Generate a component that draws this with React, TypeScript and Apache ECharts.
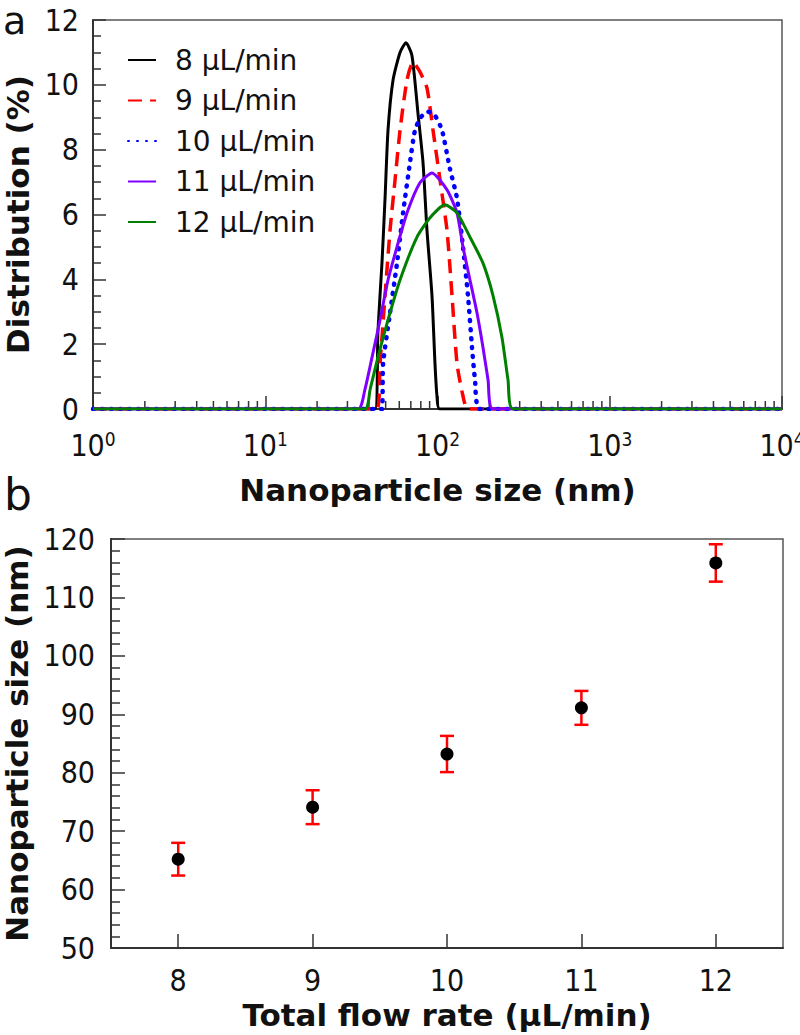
import React, { useEffect, useRef } from "react";
import * as echarts from "echarts";

// ---- Panel a: size distributions ----
const seriesNames = ["8 µL/min", "9 µL/min", "10 µL/min", "11 µL/min", "12 µL/min"];
const size8 = [1, 43.4, 45.1, 47.6, 49.6, 51.6, 55.2, 60.6, 65.6, 71.1, 77.1, 82.4, 86.9, 92.9, 96.7, 99.3, 103, 10000];
const dist8 = [0, 0, 2.4, 4.5, 6.5, 8.6, 10.15, 11.0, 11.3, 10.9, 9.1, 7.6, 5.5, 3.5, 1.4, 0.4, 0, 0];
const size9 = [1, 44.5, 46.4, 49.6, 53.0, 56.7, 60.6, 66.5, 72.1, 79.1, 86.9, 94.2, 103.4, 113.6, 121.4, 129.8, 140.6, 150.3, 10000];
const dist9 = [0, 0, 1.4, 3.5, 5.5, 7.07, 8.6, 10.15, 10.7, 10.4, 9.9, 8.6, 7.07, 5.5, 3.5, 1.4, 0.4, 0, 0];
const size10 = [1, 47.6, 48.3, 53.0, 58.2, 63.1, 69.2, 74.0, 80, 88.1, 96.7, 106.2, 118.2, 129.8, 140.6, 150.3, 158.6, 165.1, 176.5, 10000];
const dist10 = [0, 0, 1.4, 2.96, 4.5, 6.05, 7.6, 8.6, 9.0, 9.17, 9.05, 8.6, 7.4, 6.5, 5.0, 3.5, 1.9, 0.9, 0, 0];
const size11 = [1, 34.6, 37.9, 41.7, 46.4, 51.6, 58.2, 66.5, 79.1, 92.9, 113.6, 129.8, 140.6, 154.4, 169.6, 183.7, 196.5, 210, 10000];
const dist11 = [0, 0, 0.6, 1.6, 2.75, 3.98, 5.0, 6.05, 6.98, 7.28, 6.76, 6.05, 5.0, 3.98, 2.96, 1.9, 0.9, 0, 0];
const size12 = [1, 37.9, 40.6, 45.1, 51.6, 60.6, 76.0, 90.5, 110.5, 129.8, 154.4, 183.7, 210, 236.9, 256.6, 274.3, 10000];
const dist12 = [0, 0, 0.6, 1.6, 2.75, 3.98, 5.3, 5.9, 6.3, 6.05, 5.3, 4.5, 3.5, 2.2, 0.9, 0, 0];
const minorXTicks = [2, 3, 4, 5, 6, 7, 8, 9, 20, 30, 40, 50, 60, 70, 80, 90, 200, 300, 400, 500, 600, 700, 800, 900, 2000, 3000, 4000, 5000, 6000, 7000, 8000, 9000];

// ---- Panel b: mean size vs flow rate ----
const flowRates = ["8", "9", "10", "11", "12"];
const meanSize = [65.2, 74.1, 83.2, 91.1, 115.9];
const sizeErr = [2.8, 2.9, 3.1, 2.9, 3.2];

const TICK_FONT = "'DejaVu Sans Condensed', 'DejaVu Sans', sans-serif";
const TITLE_FONT = "'DejaVu Sans', Verdana, sans-serif";

function zip(xs: number[], ys: number[]) {
  return xs.map((x, i) => [x, ys[i]]);
}

export default function App() {
  const ref = useRef<HTMLDivElement>(null);
  useEffect(() => {
    if (!ref.current) return;
    const chart = echarts.init(ref.current, undefined, { renderer: "svg" });
    const axisLine = { show: true, lineStyle: { color: "#333", width: 2 } };
    const titleStyle = { fontFamily: TITLE_FONT, fontWeight: "bold", fontSize: 31, lineHeight: 31, color: "#111" };
    const lineDefs = [
      { x: size8, y: dist8, color: "#000000", type: "solid", width: 3 },
      { x: size9, y: dist9, color: "#ff0000", type: [14, 8], width: 3.5 },
      { x: size10, y: dist10, color: "#0000ff", type: [1, 8], width: 4.5, cap: "round" },
      { x: size11, y: dist11, color: "#8000ff", type: "solid", width: 3 },
      { x: size12, y: dist12, color: "#008000", type: "solid", width: 3 },
    ];
    const option: any = {
      animation: false,
      backgroundColor: "#ffffff",
      grid: [
        { left: 93, top: 20, width: 689, height: 389, show: true, borderColor: "#555", borderWidth: 1.5, containLabel: false, outerBoundsMode: "none" },
        { left: 111, top: 539, width: 672, height: 409, show: true, borderColor: "#555", borderWidth: 1.5, containLabel: false, outerBoundsMode: "none" },
      ],
      legend: {
        orient: "vertical",
        left: 122,
        top: 41,
        itemGap: 12.5,
        itemWidth: 28,
        itemHeight: 14,
        data: seriesNames,
        itemStyle: { opacity: 0 },
        textStyle: { fontFamily: TITLE_FONT, fontSize: 28, color: "#111", padding: [0, 0, 0, 14] },
      },
      xAxis: [
        {
          type: "log",
          gridIndex: 0,
          logBase: 10,
          min: 1,
          max: 10000,
          axisLine,
          axisTick: { show: true, inside: true, length: 13, lineStyle: { color: "#333", width: 1.5 } },
          splitLine: { show: false },
          axisLabel: {
            margin: 20,
            color: "#111",
            hideOverlap: false,
            formatter: (v: number) => `{b|10}{s|${Math.round(Math.log10(v))}}`,
            rich: {
              b: { fontFamily: TICK_FONT, fontSize: 30, color: "#111", lineHeight: 32 },
              s: { fontFamily: TICK_FONT, fontSize: 19, color: "#111", verticalAlign: "top", lineHeight: 19 },
            },
          },
          name: "Nanoparticle size (nm)",
          nameLocation: "middle",
          nameGap: 65,
          nameTextStyle: titleStyle,
        },
        {
          type: "category",
          gridIndex: 1,
          data: flowRates,
          boundaryGap: true,
          axisLine,
          axisTick: { show: true, inside: true, alignWithLabel: true, length: 14, lineStyle: { color: "#333", width: 1.5 } },
          axisLabel: { margin: 17, fontFamily: TICK_FONT, fontSize: 30, color: "#111" },
          name: "Total flow rate (µL/min)",
          nameLocation: "middle",
          nameGap: 51,
          nameTextStyle: titleStyle,
        },
      ],
      yAxis: [
        {
          type: "value",
          gridIndex: 0,
          min: 0,
          max: 12,
          interval: 2,
          axisLine,
          axisTick: { show: true, inside: true, length: 13, lineStyle: { color: "#333", width: 1.5 } },
          minorTick: { show: true, splitNumber: 4, length: 8, lineStyle: { color: "#333", width: 1.5 } },
          splitLine: { show: false },
          axisLabel: { margin: 14, fontFamily: TICK_FONT, fontSize: 30, color: "#111" },
          name: "Distribution (%)",
          nameLocation: "middle",
          nameGap: 55,
          nameTextStyle: titleStyle,
        },
        {
          type: "value",
          gridIndex: 1,
          min: 50,
          max: 120,
          interval: 10,
          axisLine,
          axisTick: { show: true, inside: true, length: 14, lineStyle: { color: "#333", width: 1.5 } },
          minorTick: { show: true, splitNumber: 5, length: 9, lineStyle: { color: "#333", width: 1.5 } },
          splitLine: { show: false },
          axisLabel: { margin: 16, fontFamily: TICK_FONT, fontSize: 30, color: "#111" },
          name: "Nanoparticle size (nm)",
          nameLocation: "middle",
          nameGap: 71,
          nameTextStyle: titleStyle,
        },
      ],
      graphic: [
        { type: "text", left: 3, top: 2, style: { text: "a", fontFamily: TITLE_FONT, fontSize: 38, fill: "#111" } },
        { type: "text", left: 4, top: 472, style: { text: "b", fontFamily: TITLE_FONT, fontSize: 44, fill: "#111" } },
      ],
      series: [
        {
          type: "custom",
          xAxisIndex: 0,
          yAxisIndex: 0,
          silent: true,
          data: minorXTicks.map((v) => [v, 0]),
          renderItem: (params: any, api: any) => {
            const p = api.coord([api.value(0), 0]);
            return {
              type: "line",
              shape: { x1: p[0], y1: p[1], x2: p[0], y2: p[1] - 8 },
              style: { stroke: "#333", lineWidth: 1.5 },
            };
          },
          z: 1,
        },
        ...lineDefs.map((d, i) => ({
          type: "line",
          name: seriesNames[i],
          xAxisIndex: 0,
          yAxisIndex: 0,
          data: zip(d.x, d.y),
          showSymbol: false,
          symbol: "none",
          smooth: 0.2,
          lineStyle: { color: d.color, width: d.width, type: d.type, cap: (d as any).cap || "butt" },
          itemStyle: { color: d.color },
          z: 2 + i,
        })),
        {
          type: "custom",
          name: "error",
          xAxisIndex: 1,
          yAxisIndex: 1,
          data: meanSize.map((m, i) => [i, m - sizeErr[i], m + sizeErr[i]]),
          renderItem: (params: any, api: any) => {
            const lo = api.coord([api.value(0), api.value(1)]);
            const hi = api.coord([api.value(0), api.value(2)]);
            const hw = 7;
            const st = { stroke: "#ff0000", lineWidth: 2.5 };
            return {
              type: "group",
              children: [
                { type: "line", shape: { x1: lo[0], y1: lo[1], x2: hi[0], y2: hi[1] }, style: st },
                { type: "line", shape: { x1: lo[0] - hw, y1: lo[1], x2: lo[0] + hw, y2: lo[1] }, style: st },
                { type: "line", shape: { x1: hi[0] - hw, y1: hi[1], x2: hi[0] + hw, y2: hi[1] }, style: st },
              ],
            };
          },
          z: 3,
        },
        {
          type: "scatter",
          name: "mean",
          xAxisIndex: 1,
          yAxisIndex: 1,
          data: meanSize.map((m, i) => [i, m]),
          symbol: "circle",
          symbolSize: 13,
          itemStyle: { color: "#000", opacity: 1 },
          z: 4,
        },
      ],
    };
    chart.setOption(option);
    return () => chart.dispose();
  }, []);
  return (
    <div
      ref={ref}
      style={{ position: "fixed", left: 0, top: 0, width: 800, height: 1035, background: "#fff" }}
    />
  );
}
